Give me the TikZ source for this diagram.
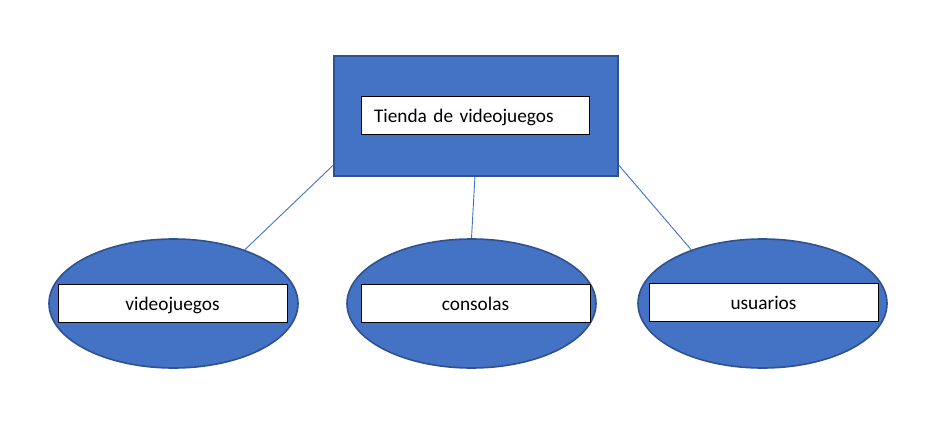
\documentclass[tikz,border=0pt]{standalone}
\usepackage{fontspec}
\setmainfont[WordSpace=0.8]{Carlito}
\usetikzlibrary{shapes.geometric}
\definecolor{fillblue}{HTML}{4472C4}
\definecolor{edgeblue}{HTML}{2F528F}
\tikzset{
  bluebox/.style={draw=edgeblue, line width=1.6pt, fill=fillblue, minimum width=284pt, minimum height=120pt, inner sep=0pt},
  blueell/.style={ellipse, draw=edgeblue, line width=1.6pt, fill=fillblue, minimum width=249pt, minimum height=129pt, inner sep=0pt},
  label/.style={draw=black, line width=1pt, fill=white, minimum width=228pt, minimum height=38pt, inner sep=0pt, text height=26pt, text depth=12pt, font=\fontsize{19.3}{21}\selectfont},
  link/.style={draw=fillblue, line width=0.9pt}
}
\begin{document}
\begin{tikzpicture}[x=1pt,y=-1pt]
\useasboundingbox (0,0) rectangle (952,422);
\node[bluebox] (top) at (476,116) {};
\node[label, text width=202pt, align=left, text height=25.5pt, text depth=12.5pt] (topl) at (475,116) {Tienda de videojuegos};
\node[blueell] (e1) at (173.5,303.5) {};
\node[blueell] (e2) at (471.5,303.5) {};
\node[blueell] (e3) at (762.5,303.5) {};
\node[label, minimum width=229pt] (l1) at (172.5,303) {videojuegos};
\node[label, minimum width=229pt] (l2) at (475.5,303.5) {consolas};
\node[label, minimum width=229pt] (l3) at (763.5,302.5) {usuarios};
\draw[link] (top.199.4) -- (e1.37.6);
\draw[link] (top.269) -- (e2.north);
\draw[link] (top.-19) -- (e3.143.3);
\end{tikzpicture}
\end{document}
